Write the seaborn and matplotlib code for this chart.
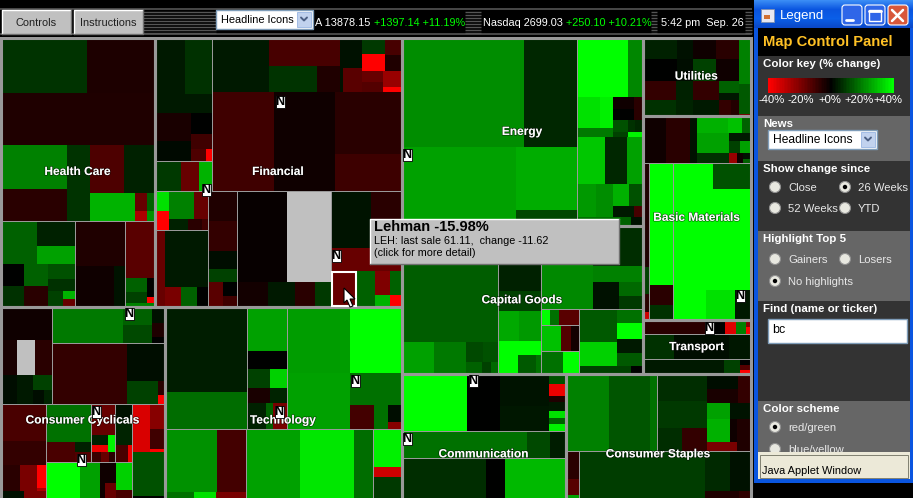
import matplotlib
matplotlib.use('Agg')
import matplotlib.pyplot as plt
import matplotlib.patheffects as pe
from matplotlib.patches import Rectangle, Circle, Polygon, FancyBboxPatch
import numpy as np
import seaborn as sns

sns.set_theme(style='white')
plt.rcParams['font.family'] = ['Liberation Sans', 'DejaVu Sans']

GREY = None  # stock with no reading


def H(w, *kids, box=False, name=None):
    return dict(w=w, d='h', kids=kids, box=box, name=name)


def V(w, *kids, box=False, name=None):
    return dict(w=w, d='v', kids=kids, box=box, name=name)


# every tile: (relative size, % change since 26 weeks)
health_care = V(154,
    V(543,
      H(165, (255, 8), (198, -4.5)),
      (153, -5),
      H(225,
        V(195, (132, 20), (93, -6.5)),
        (69, 8),
        V(189, H(144, (99, -12), (90, 5)),
          H(81, (132, 28), V(36, (54, -16), (27, -27)), V(21, (54, 15), (27, 23))))),
      box=True),
    H(255,
      V(221, H(126, (108, 15), V(111, (75, 5), (51, 25))),
        H(126, V(69, (66, 0), (60, 7.5)), V(69, (66, 15), (60, -6.5)),
          V(81, (45, 12.5), (36, 7.5), H(45, (45, 10), V(36, (24, 28), (21, -16))))), box=True),
      V(147, (132, -5), H(120, (111, -2.5), (33, 3)), box=True),
      V(87, (168, -14), H(75, V(63, (42, 15), (33, 10)), V(21, (57, 0), (18, -40))), (9, 20), box=True)),
    name='Health Care', box=True)

financial = V(247,
    H(456,
      V(172,
        V(366, H(168, (90, 3.8), (81, 7.5)), (57, 3.8),
          H(141, V(108, (81, -4), (60, 1.5)),
            V(63, (60, 0), (45, -10), H(36, (45, -12), (18, -40))))),
        H(90, (78, 9), (54, -16), (39, 28), box=True), box=True),
      V(561,
        H(162, (166, 3.8),
          V(210, (84, -11), H(78, (144, 8), (66, -5))),
          V(66, (90, 2.5), H(72, (9, 2.5), (57, -14))),
          V(117, H(99, V(67, (48, 9), (51, -40)), V(50, (51, -11), (48, -5))),
            H(63, V(63, (33, -16), (30, -13)), V(54, (48, -24), (15, -40))))),
        H(292, (181, -10), (180, -2.5), V(198, (181, -6.5), (111, -9.5))),
        box=True)),
    H(342,
      V(159,
        H(115, V(42, (58, 35), (57, -40)),
          V(116, H(82, (75, 20), (41, -16)), H(33, (57, 5), (42, -6.5), (17, -10))), box=True),
        H(225, (30, -16),
          V(128, (166, 3.8), H(57, (48, -19), (48, 15), (32, 0))), box=True)),
      V(86, (88, -5), (87, -8), (54, 2), (39, 10),
        H(72, (42, -14), V(43, (42, 0), (30, -10))), box=True),
      V(278,
        H(268, (147, -1), (129, GREY)),
        H(72, (90, -3), (81, 3.8), (57, -6.5), (48, 9)), box=True),
      V(208,
        H(166, (118, 3), (90, -6.5)),
        (69, -16),
        H(105, (73, -15.98, 'LEH'), (57, 15),
          V(45, (72, -20), (33, 28)), V(33, (72, 15), (33, -40))), box=True)),
    name='Financial', box=True)

energy = H(188.5,
    V(519,
      H(324, (360, 22), (156, 6)),
      H(234, (336, 25), V(180, (186, 27), (48, 11)))),
    V(195,
      V(294,
        H(177, (153, 40), (42, 21)),
        H(117,
          V(108, H(90, (69, 35), (39, 37.6)), (27, 18.8)),
          V(87, H(33, (63, -2.5), (24, -6.5)), H(33, (63, 0), (24, -6.5)),
            H(36, (45, 12.5), (21, 7.5), (21, 6)), H(15, (45, 10), (42, 38))))),
      V(237,
        H(139, (84, 31), (66, 6), (45, 25)),
        H(96, (57, 24), (51, 22), V(87, H(63, (48, 27.6), (39, 12.5)), H(33, (63, 3.8), (24, -11))))),
      H(27, (132, 17.6), (30, 15), (33, 2.5)),
      box=True),
    name='Energy', box=True)

capital_goods = H(147.5,
    V(286, (340, 14.5),
      H(95, (96, 25), (96, 18.8),
        V(94, H(60, (48, 11.3), (46, 12.5)), H(35, (45, 15), (27, 10), (22, 16.3))))),
    V(125, (190, 5), (60, 10),
      H(87, (60, 26.4), (63, 23.8)),
      V(98, (42, 40), H(56, (57, 40), (54, 13.8), (12, 17.6))), box=True),
    V(301,
      H(242, (154, 21.3),
        V(147, (118, 7), (45, 20), H(79, (78, 2.5), V(69, (42, 16.3), (37, 8.8))))),
      H(193,
        V(113,
          H(48, (28, 40), (27, 17.6), (58, -14), box=True),
          H(74, (61, 30), (27, -13), (25, -3), box=True),
          H(66, (67, 17.6), (46, 40), box=True)),
        V(186,
          H(168, V(111, (96, 13.8), (70, 32.6)),
            V(75, (42, 17.6), (45, 40), (42, 3.8), (36, 13.8))),
          H(25, (153, 10), (33, 0)), box=True)), box=True),
    name='Capital Goods', box=True)

utilities = H(78,
    V(285,
      H(63, (102, 5), (45, 2.5), (69, -2.5), (67, -6.5)),
      H(63, (102, 0), (45, 2), (69, 10), (67, -2.5)),
      H(55, (99, -8), (48, 5), (78, -8), V(58, (35, 15), (20, 3.5))),
      H(44, (99, 7.5), (48, 5.6), (78, 3.8), (33, -8), (25, -5.5))),
    V(33, (135, 20), (84, 13.8), (6, -18)),
    name='Utilities', box=True)

basic_materials = V(204,
    H(141, (69, -2.5), (69, -6.5), (21, 2.5),
      V(157,
        H(52, (91, 27.6), (39, 30), (25, 15)),
        H(57, (94, 25), V(30, (21, 3.8), (36, 10)), V(31, (21, 3.8), (36, 25))),
        H(30, (94, 7.5), (21, -24), (18, -2.5), V(22, (18, 2.5), (12, 15)))),
      box=True),
    H(464,
      V(20, (307, -5), (78, 10), (54, -6.5), (23, -32), box=True),
      V(68, (358, 40), (60, -6.5), (44, 7.5), box=True),
      V(227,
        H(75, (118, 40), (109, 12.5)),
        V(389, (297, 40), H(89, (97, 40), (84, 35), (46, 3.8))), box=True)),
    name='Basic Materials', box=True)

transport = V(54,
    H(39, (183, -6.5), (57, 0), (33, -35), (30, 20), V(13, (18, -21), (18, -40)), box=True),
    H(72, (93, 7.5), (159, 1.9), (64, 3.5), box=True),
    H(42, (237, 3.8), (49, 10), V(30, (15, 0), (15, -13), (12, -40)), box=True),
    name='Transport', box=True)

consumer_cyclicals = V(164,
    H(291,
      V(153, (99, -2.5),
        H(102, (48, -4), (54, GREY), (49, -6.5)),
        H(87, (48, 1.9), (48, 3.8), V(55, (45, 10), H(42, (30, 1.9), (25, 5.6))))),
      V(333,
        H(108, (210, 19), V(84, (54, 15), (51, 11.3)), V(37, (48, 2.5), (39, -5), (18, 0)), box=True),
        H(183, (222, -8), V(109, (111, 1.9), H(69, (90, 10), V(19, (42, -6.5), (27, -40))))),
        box=True)),
    H(279,
      V(135, (108, -11.5), (72, -8),
        H(78, (57, -6.5), (48, -18.8), V(28, (69, -40), (9, -27))),
        H(21, (69, 2.5), (64, -18.8)), box=True),
      V(252,
        H(171,
          V(132, (111, 17.6), H(60, (84, -11.5), V(46, (30, 5), (30, -13)))),
          V(69, (90, -16), H(51, V(48, (30, 5), (21, -37)), (19, 38)),
            H(30, (27, -9), (24, -16), (16, -6.5)), box=True),
          V(49, (45, 2.5), (75, 5.6), H(51, (39, -11.5), (10, -37)), box=True)),
        H(108, (99, 40), (57, 25), (14, -2.5),
          V(32, (63, -2.5), (45, -16)), V(46, (84, 32.6), (24, -11)), box=True),
        box=True),
      V(97,
        H(141, (54, -34), V(43, (72, -21), (57, -10), (9, -40))),
        V(138, (132, 12.5), (6, 0)), box=True)),
    (108, 0),
    name='Consumer Cyclicals', box=True)

technology = V(237,
    H(363,
      V(243, (255, 4.4), (108, 17), box=True),
      V(120, (132, 25), (51, 0),
        H(57, (69, 10), (51, 32.6)),
        H(45, (69, -4), (51, 5.6)),
        H(75, (57, 5), (21, 15), (42, -18.8)), box=True),
      V(339,
        H(195, (184, 24.5), (153, 40)),
        H(165, (184, 25),
          V(153, (96, 17.6), H(69, (72, -10.5), (42, 17.6), V(39, (51, 2), (18, -21))))),
        box=True)),
    H(207,
      V(241, H(189, (156, 22.6), (85, -10.5)), H(18, (87, 17.6), (66, 35), (88, -18.8)), box=True),
      (158, 25), (160, 36), (57, 17),
      V(83, (114, 37.6), (27, -32), (63, 8.8), box=True)),
    (108, 0),
    name='Technology', box=True)

communication = V(164,
    H(168, (192, 40), (99, 0), V(144, (93, 3), (72, 3.5)),
      V(49, (30, 12.5), (33, -37), (18, -5), (27, 3.8), (21, 35), (18, 15), (18, 37.6)), box=True),
    H(81, (369, 17.6), (69, 11.3), (46, 4.4), box=True),
    H(228,
      (249, 7), (54, 0), (178, 29)),
    name='Communication', box=True)

consumer_staples = V(185,
    H(227,
      H(272, (129, 20), (120, 13.2), (23, 17.6), box=True),
      H(276,
        V(147, (78, 7), (78, 8.8), H(69, (72, 7), (75, -8))),
        V(127,
          H(84, V(90, (42, 1.9), (42, -4)), (37, -8)),
          H(114, V(66, (48, 25), (66, 27.6)), V(61, (48, 3), H(66, (21, -2.5), (40, -5)))),
          H(27, (87, -18.8), (40, -5))), box=True)),
    H(138,
      V(41, (82, -6.5), (45, -13.5), (9, 25), box=True),
      V(505, H(115, (372, 9.4), (72, 6.3), (61, 2.5)), H(21, (372, 9.4), (99, -5), (34, -7.5)), box=True)),
    (108, 0),
    name='Consumer Staples', box=True)

ROOT = H(750,
    V(401,
      H(269, health_care, financial),
      H(228, consumer_cyclicals, technology)),
    V(349,
      H(336,
        V(241, energy, capital_goods),
        V(108, utilities, basic_materials, transport)),
      H(160, communication, consumer_staples)))

news_x = [280, 206, 336, 407, 740, 709, 129, 355, 96, 279, 81, 473, 407]
news_y = [102, 190, 256, 155, 296, 328, 314, 381, 412, 412, 460, 381, 439]

ticker_white = ['A 13878.15', 'Nasdaq 2699.03', '5:42 pm  Sep. 26']
ticker_green = ['+1397.14 +11.19%', '+250.10 +10.21%']
key_ticks = ['-40%', '-20%', '+0%', '+20%', '+40%']

cmap = sns.blend_palette(['#ff0000', '#000000', '#00ff00'], n_colors=256, as_cmap=True)

tiles = []
frames = []
sectors = []


def layout(node, x, y, w, h):
    if not isinstance(node, dict):
        tiles.append((x, y, w, h) + tuple(node[1:]))
        return
    total = sum((k['w'] if isinstance(k, dict) else k[0]) for k in node['kids'])
    pos = 0.0
    for k in node['kids']:
        kw = k['w'] if isinstance(k, dict) else k[0]
        if node['d'] == 'h':
            layout(k, x + pos * w / total, y, kw * w / total, h)
        else:
            layout(k, x, y + pos * h / total, w, kw * h / total)
        pos += kw
    if node['name']:
        sectors.append((node['name'], x, y, w, h))
    elif node['box']:
        frames.append((x, y, w, h))


layout(ROOT, 0.5, 37.5, 750, 497)

fig = plt.figure(figsize=(9.13, 4.98), dpi=100, facecolor='black')
ax = fig.add_axes([0, 0, 1, 1])
ax.set_facecolor('black')
ax.set_xlim(0, 913)
ax.set_ylim(498, 0)
ax.axis('off')


def px(size):
    return size * 0.72


def tile_color(v):
    if v is None:
        return '#c0c0c0'
    return cmap((v + 40) / 80)


ax.bar([t[0] for t in tiles], [t[3] for t in tiles], width=[t[2] for t in tiles],
       bottom=[t[1] for t in tiles], align='edge',
       color=[tile_color(t[4]) for t in tiles], linewidth=0, antialiased=False, zorder=1)

for (x, y, w, h) in frames:
    ax.add_patch(Rectangle((x, y), w, h, fill=False, ec='#999999', lw=0.72, zorder=2))
for (name, x, y, w, h) in sectors:
    ax.add_patch(Rectangle((x, y), w, h, fill=False, ec='#999999', lw=2.2, zorder=3))

# selected stock outline
for t in tiles:
    if len(t) > 5:
        ax.add_patch(Rectangle((t[0] + 1, t[1] + 1), t[2] - 1, t[3] - 2, fill=False, ec='white', lw=1.5, zorder=4))

for (name, x, y, w, h) in sectors:
    ax.text(x + w / 2, y + h / 2, name, color='white', fontsize=px(11.9), fontweight='bold',
            ha='center', va='center', zorder=6,
            path_effects=[pe.withStroke(linewidth=1.0, foreground='#00000088')])

for nx, ny in zip(news_x, news_y):
    ax.add_patch(Rectangle((nx - 4.5, ny - 6), 9, 12, fc='white', ec='black', lw=0.6, zorder=6))
    ax.text(nx, ny + 0.3, 'N', color='black', fontsize=px(12.5), fontweight='bold', ha='center', va='center', zorder=7)

# toolbar
ax.bar([0], [29], width=[752], bottom=[8], align='edge', color='black', linewidth=0, zorder=5)
for yy in (8.5, 33.5):
    ax.hlines(yy, 0, 752, color='#555555', lw=1.2, zorder=5)
for x0, x1 in [(143, 216), (465, 481), (651, 657), (745, 752)]:
    for yy in np.arange(11.5, 33, 3):
        ax.hlines(yy, x0, x1, color='#555555', lw=1, zorder=5)


def button(x, y, w, h, label):
    ax.add_patch(Rectangle((x, y), w, h, fc='#c0c0c0', ec='none', zorder=6))
    ax.plot([x, x, x + w], [y + h, y, y], color='white', lw=1, zorder=7)
    ax.plot([x, x + w, x + w], [y + h, y + h, y], color='#707070', lw=1, zorder=7)
    ax.text(x + w / 2, y + h / 2 + 0.5, label, color='#202020', fontsize=px(11), ha='center', va='center', zorder=8)


button(2, 10, 69, 24, 'Controls')
button(74, 10, 69, 24, 'Instructions')


def combo(x, y, w, h, label, size=11):
    ax.add_patch(Rectangle((x, y), w, h, fc='white', ec='#7f9db9', lw=1, zorder=6))
    ax.add_patch(Rectangle((x + w - 16, y + 2), 14, h - 4, fc='#c1d2ee', ec='#98b5e2', lw=0.6, zorder=7))
    ax.plot([x + w - 12, x + w - 9, x + w - 6], [y + h / 2 - 2, y + h / 2 + 1, y + h / 2 - 2], color='#4d6185', lw=1.4, zorder=8)
    ax.text(x + 5, y + h / 2, label, color='black', fontsize=px(size), ha='left', va='center', zorder=8)


combo(216, 10, 97, 19, 'Headline Icons')

ax.text(315, 23, ticker_white[0], color='white', fontsize=px(10.9), ha='left', va='center', zorder=7)
ax.text(374, 23, ticker_green[0], color='#00ff00', fontsize=px(10.9), ha='left', va='center', zorder=7)
ax.text(483, 23, ticker_white[1], color='white', fontsize=px(10.9), ha='left', va='center', zorder=7)
ax.text(566, 23, ticker_green[1], color='#00ff00', fontsize=px(10.9), ha='left', va='center', zorder=7)
ax.text(661, 23, ticker_white[2], color='white', fontsize=px(10.9), ha='left', va='center', zorder=7)

# tooltip
ax.add_patch(Rectangle((370, 219), 249, 45, fc='#c0c0c0', ec='none', zorder=8))
ax.plot([370, 370, 619], [264, 219, 219], color='white', lw=1, zorder=9)
ax.plot([370, 619, 619], [264, 264, 219], color='#707070', lw=1, zorder=9)
ax.text(374, 227, 'Lehman -15.98%', color='black', fontsize=px(14.6), fontweight='bold', ha='left', va='center', zorder=9)
ax.text(374, 241, 'LEH: last sale 61.11,  change -11.62', color='black', fontsize=px(10.7), ha='left', va='center', zorder=9)
ax.text(374, 253, '(click for more detail)', color='black', fontsize=px(10.7), ha='left', va='center', zorder=9)

# mouse pointer
ax.add_patch(Polygon([(344, 288), (344, 303), (347, 300), (350, 307), (353, 306), (350, 299), (355, 299)],
                     closed=True, fc='white', ec='black', lw=0.8, zorder=10))

# legend window
ax.add_patch(Rectangle((754, 0), 159, 483, fc='#0a55e0', ec='none', zorder=5))
grad = ax.imshow(np.linspace(0, 1, 28).reshape(-1, 1), cmap=sns.blend_palette(['#3a8cf5', '#0a55e0', '#0a5fe8', '#0a48c8'], as_cmap=True),
                 extent=(754, 913, 28, 0), aspect='auto', zorder=5)
ax.set_xlim(0, 913)
ax.set_ylim(498, 0)

section_tops = [28, 56, 116, 161, 231, 301, 401]
section_bottoms = [56, 116, 161, 231, 301, 401, 452]
section_colors = ['black', '#333333', '#666666', '#333333', '#666666', '#333333', '#666666']
ax.bar([758] * 7, [b - t for t, b in zip(section_tops, section_bottoms)], width=[152] * 7,
       bottom=section_tops, align='edge', color=section_colors, linewidth=0, zorder=6)

ax.text(780, 16, 'Legend', color='white', fontsize=px(13.2), ha='left', va='center', zorder=7)
ax.add_patch(Rectangle((761, 9), 13, 13, fc='#e8e8f0', ec='#8090b0', lw=0.6, zorder=7))
ax.add_patch(Rectangle((764, 15), 6, 4, fc='#d07030', ec='none', zorder=8))

for bx, col in [(842, '#2f66e8'), (865, '#2f66e8'), (888, '#d8573a')]:
    ax.add_patch(FancyBboxPatch((bx + 1, 6), 18, 18, boxstyle='round,pad=1,rounding_size=3', fc=col, ec='white', lw=0.8, zorder=7))
ax.plot([846, 853], [20, 20], color='white', lw=2, zorder=8)
ax.add_patch(Rectangle((869, 10), 12, 11, fill=False, ec='white', lw=1, zorder=8))
ax.plot([869, 881], [11, 11], color='white', lw=2, zorder=8)
ax.plot([892, 903], [10, 21], color='white', lw=1.8, zorder=8)
ax.plot([892, 903], [21, 10], color='white', lw=1.8, zorder=8)

ax.text(763, 42, 'Map Control Panel', color='#ffc125', fontsize=px(14.7), fontweight='bold', ha='left', va='center', zorder=7)

headers = ['Color key (% change)', 'News', 'Show change since', 'Highlight Top 5', 'Find (name or ticker)', 'Color scheme']
header_y = [64, 124, 169, 239, 309, 409]
for label, yy in zip(headers, header_y):
    ax.text(763, yy, label, color='white', fontsize=px(11.5), fontweight='bold', ha='left', va='center', zorder=7)

for label, xx in zip(key_ticks, [772, 801, 830, 859, 888]):
    ax.text(xx, 99.5, label, color='white', fontsize=px(11.2), ha='center', va='center', zorder=7)

combo(768, 130, 109, 19, 'Headline Icons', size=12)

radio_x = [775, 845, 775, 845, 775, 845, 775, 775, 775]
radio_y = [187, 187, 208, 208, 259, 259, 281, 427, 449]
radio_on = [False, True, False, False, False, False, True, True, False]
radio_labels = ['Close', '26 Weeks', '52 Weeks', 'YTD', 'Gainers', 'Losers', 'No highlights', 'red/green', 'blue/yellow']
for rx, ry, on, label in zip(radio_x, radio_y, radio_on, radio_labels):
    ax.add_patch(Circle((rx, ry), 5.5, fc='#e8e8e0', ec='#909090', lw=0.8, zorder=7))
    if on:
        ax.add_patch(Circle((rx, ry), 2.2, fc='black', ec='none', zorder=8))
    ax.text(rx + 13, ry + 0.5, label, color='#e8e8e8', fontsize=px(11.2), ha='left', va='center', zorder=7)

ax.add_patch(Rectangle((768, 319), 139, 24, fc='white', ec='#7f9db9', lw=1, zorder=7))
ax.text(772, 330, 'bc', color='black', fontsize=px(12.5), ha='left', va='center', zorder=8)

ax.add_patch(Rectangle((758, 452), 152, 27, fc='#ece9d8', ec='none', zorder=9))
ax.add_patch(Rectangle((760, 455), 148, 23, fill=False, ec='#808070', lw=0.7, zorder=10))
ax.text(762, 471, 'Java Applet Window', color='black', fontsize=px(11), ha='left', va='center', zorder=10)

# colour key through a heatmap of its own
ax_key = fig.add_axes([768 / 913, 1 - 93 / 498, 126 / 913, 15 / 498], zorder=5)
sns.heatmap(np.arange(-40, 41).reshape(1, -1), cmap=cmap, vmin=-40, vmax=40, cbar=False,
            xticklabels=False, yticklabels=False, ax=ax_key)

fig.savefig('out.png', dpi=100, facecolor='black')
